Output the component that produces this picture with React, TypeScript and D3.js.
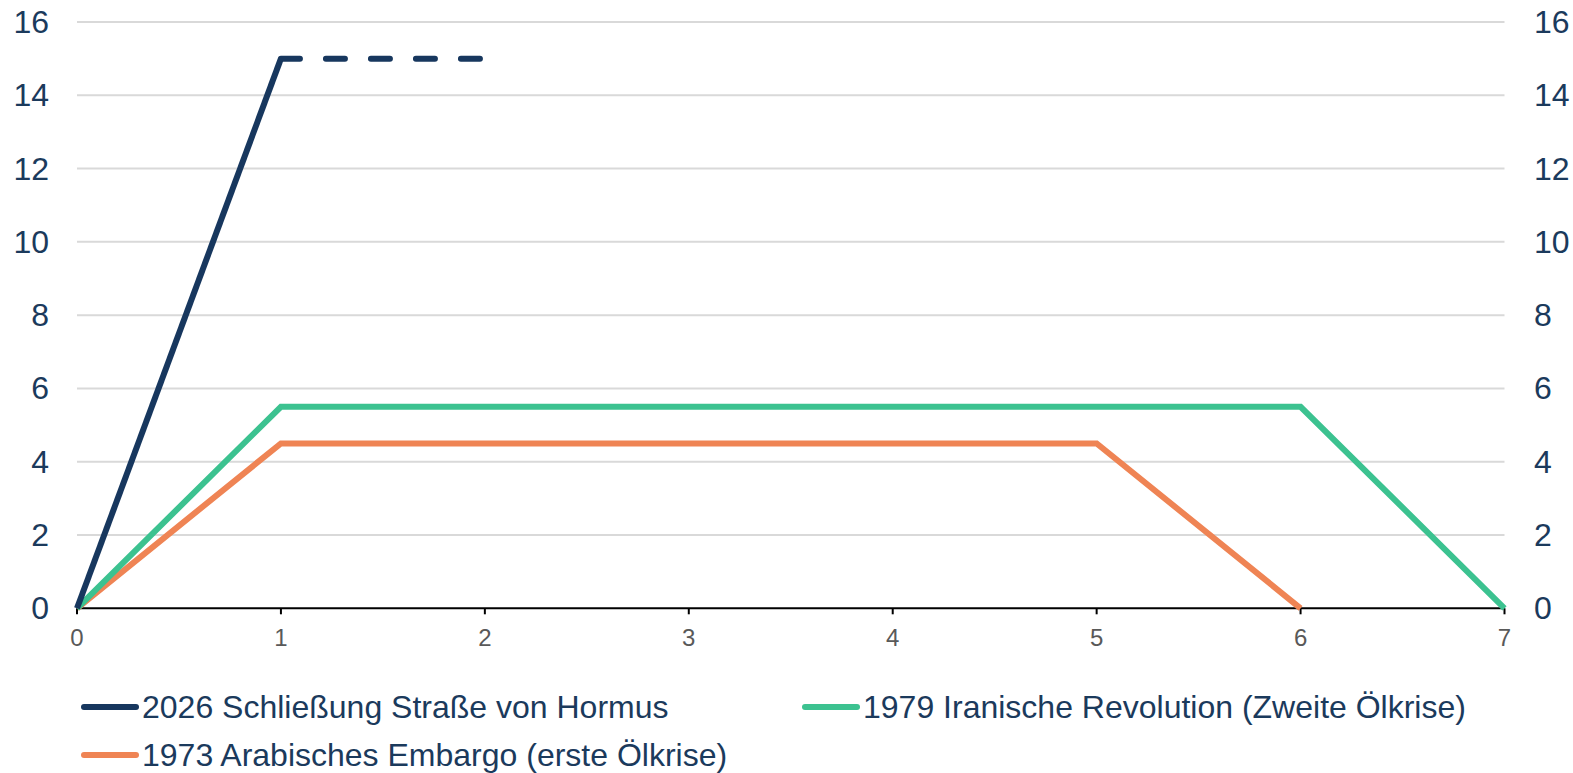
import React from "react";
import * as d3 from "d3";

const xValues = [0, 1, 2, 3, 4, 5, 6, 7];
const yTicks = [0, 2, 4, 6, 8, 10, 12, 14, 16];

const hormusSolid = [
  { x: 0, y: 0 },
  { x: 1, y: 15 },
];
const hormusDashed = [
  { x: 1, y: 15 },
  { x: 2, y: 15 },
];
const iran1979 = [0, 5.5, 5.5, 5.5, 5.5, 5.5, 5.5, 0];
const embargo1973 = [0, 4.5, 4.5, 4.5, 4.5, 4.5, 0];

const seriesNames = [
  "2026 Schließung Straße von Hormus",
  "1979 Iranische Revolution (Zweite Ölkrise)",
  "1973 Arabisches Embargo (erste Ölkrise)",
];
const seriesColors = ["#17375e", "#3cc290", "#ef8454"];

const W = 1573;
const H = 773;

export default function App() {
  const x = d3.scaleLinear().domain([0, 7]).range([77, 1504.5]);
  const y = d3.scaleLinear().domain([0, 16]).range([608.3, 22]);
  const line = d3
    .line<{ x: number; y: number }>()
    .x((d) => x(d.x))
    .y((d) => y(d.y));
  const toPts = (arr: number[]) => arr.map((v, i) => ({ x: i, y: v }));
  const font = "Arial, 'Liberation Sans', sans-serif";
  const textColor = "#1b3a5c";

  const legend = [
    { name: seriesNames[0], color: seriesColors[0], lx: 82, ly: 707 },
    { name: seriesNames[1], color: seriesColors[1], lx: 803, ly: 707 },
    { name: seriesNames[2], color: seriesColors[2], lx: 82, ly: 755 },
  ];

  return (
    <svg
      width={W}
      height={H}
      style={{ position: "absolute", left: 0, top: 0, background: "#fff" }}
      fontFamily={font}
    >
      {yTicks.map((t) =>
        t === 0 ? null : (
          <line
            key={"g" + t}
            x1={x(0)}
            x2={x(7)}
            y1={y(t)}
            y2={y(t)}
            stroke="#d9d9d9"
            strokeWidth={2}
          />
        )
      )}
      {yTicks.map((t) => (
        <text
          key={"l" + t}
          x={49}
          y={y(t)}
          textAnchor="end"
          dominantBaseline="central"
          fontSize={32}
          fill={textColor}
        >
          {t}
        </text>
      ))}
      {yTicks.map((t) => (
        <text
          key={"r" + t}
          x={1534}
          y={y(t)}
          textAnchor="start"
          dominantBaseline="central"
          fontSize={32}
          fill={textColor}
        >
          {t}
        </text>
      ))}
      <line x1={x(0)} x2={x(7)} y1={y(0)} y2={y(0)} stroke="#000" strokeWidth={2} />
      {xValues.map((v) => (
        <g key={"x" + v}>
          <line x1={x(v)} x2={x(v)} y1={y(0)} y2={y(0) + 6} stroke="#000" strokeWidth={2} />
          <text
            x={x(v)}
            y={y(0) + 29}
            textAnchor="middle"
            dominantBaseline="central"
            fontSize={24}
            fill="#595959"
          >
            {v}
          </text>
        </g>
      ))}
      <path d={line(toPts(embargo1973)) || ""} fill="none" stroke={seriesColors[2]} strokeWidth={6} />
      <path d={line(toPts(iran1979)) || ""} fill="none" stroke={seriesColors[1]} strokeWidth={6} />
      <path d={line(hormusSolid) || ""} fill="none" stroke={seriesColors[0]} strokeWidth={6} />
      <path
        d={line(hormusDashed) || ""}
        fill="none"
        stroke={seriesColors[0]}
        strokeWidth={6}
        strokeDasharray="19 26"
        strokeLinecap="round"
      />
      {legend.map((l) => (
        <g key={l.name}>
          <line
            x1={l.lx + 2}
            x2={l.lx + 54}
            y1={l.ly}
            y2={l.ly}
            stroke={l.color}
            strokeWidth={6}
            strokeLinecap="round"
          />
          <text
            x={l.lx + 60}
            y={l.ly}
            dominantBaseline="central"
            fontSize={32}
            fill={textColor}
          >
            {l.name}
          </text>
        </g>
      ))}
    </svg>
  );
}
